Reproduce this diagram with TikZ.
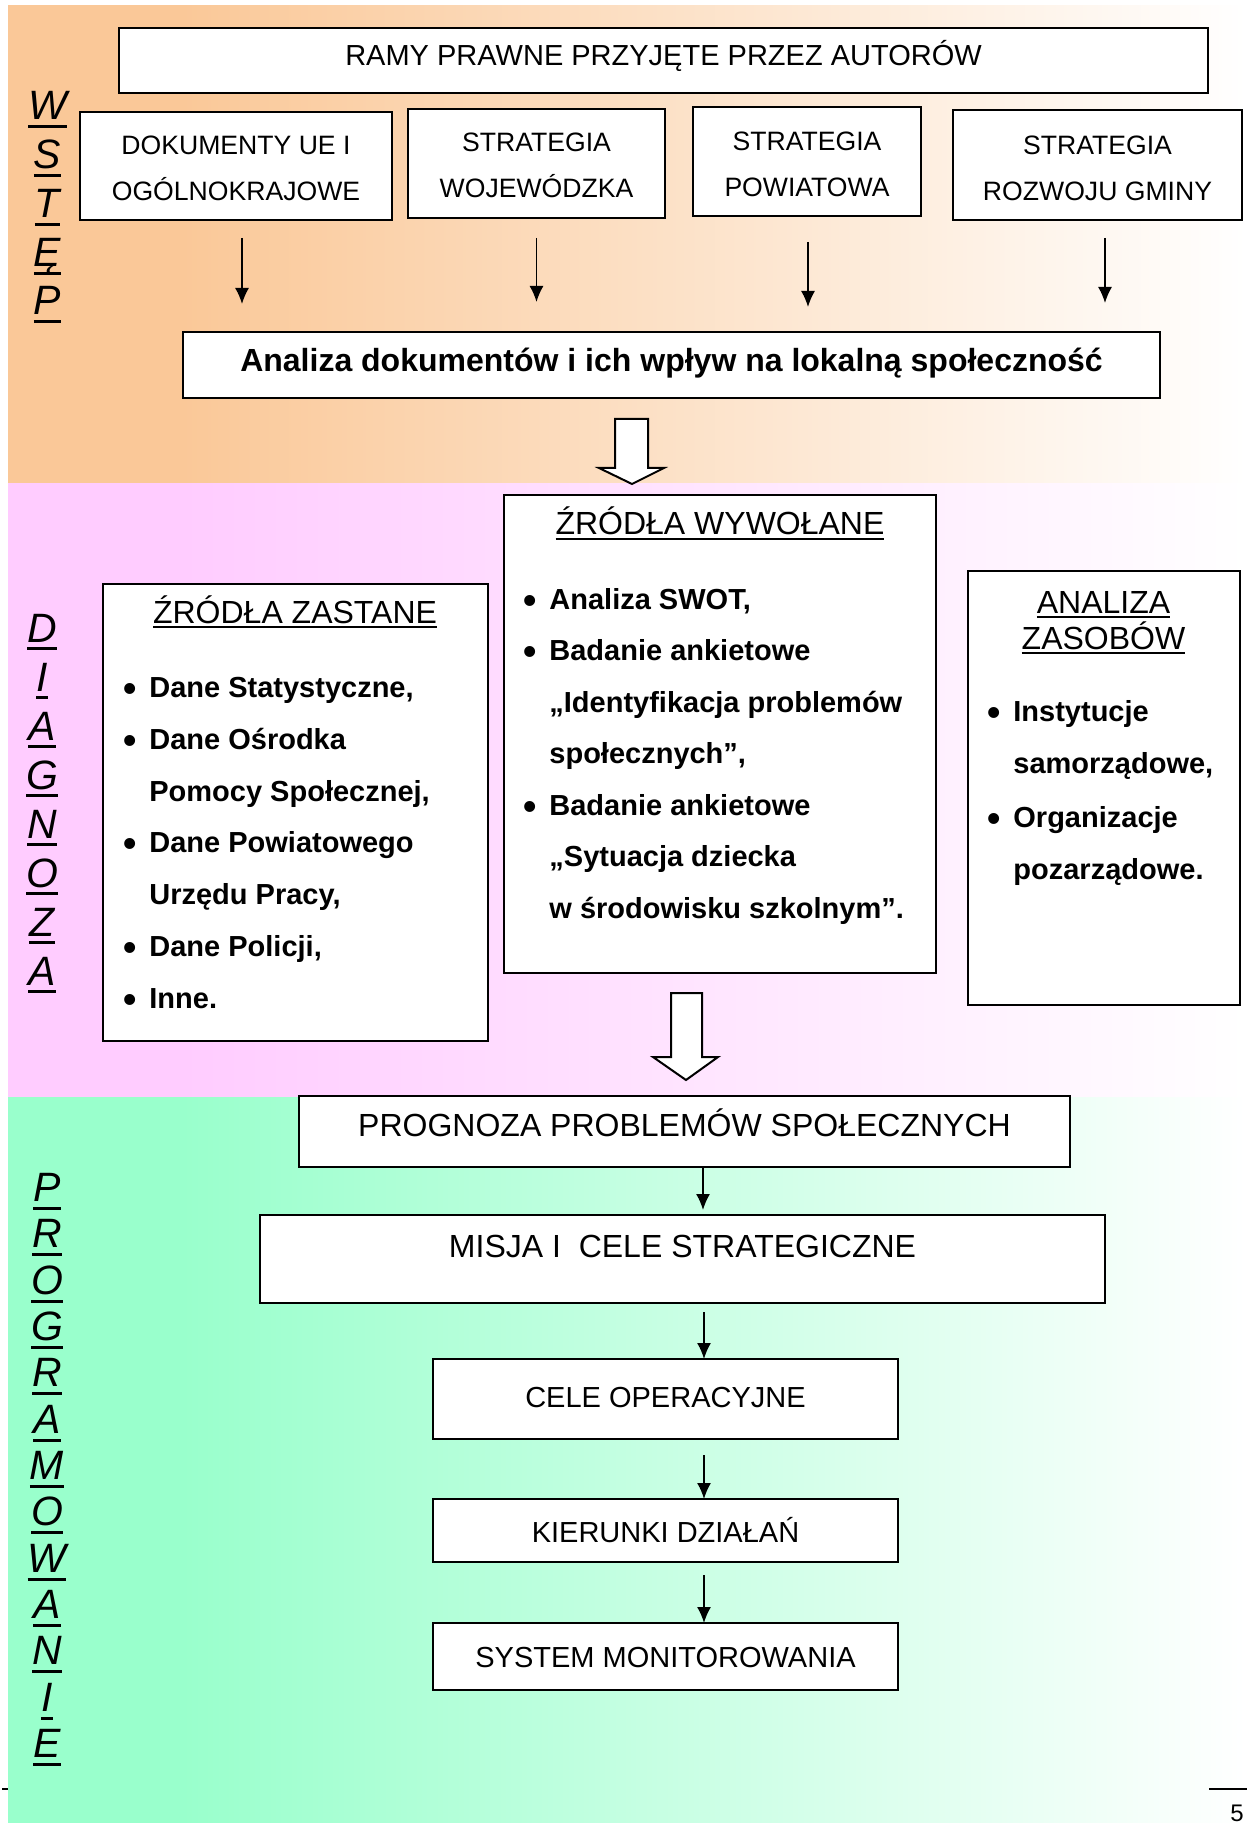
\documentclass[tikz,border=0pt]{standalone}
\usepackage{fontspec}
\setmainfont{Liberation Sans}
\usetikzlibrary{arrows.meta,calc}
\definecolor{orA}{RGB}{250,200,152}
\definecolor{pkA}{RGB}{255,204,255}
\definecolor{grA}{RGB}{153,255,204}
\pgfdeclarehorizontalshading{orsh}{100bp}{color(0bp)=(orA); color(32bp)=(orA); color(75bp)=(white); color(100bp)=(white)}
\pgfdeclarehorizontalshading{pksh}{100bp}{color(0bp)=(pkA); color(32bp)=(pkA); color(75bp)=(white); color(100bp)=(white)}
\pgfdeclarehorizontalshading{grsh}{100bp}{color(0bp)=(grA); color(32bp)=(grA); color(75bp)=(white); color(100bp)=(white)}
\newcommand{\fsz}[1]{\fontsize{#1}{#1}\selectfont}
\newcommand{\ulx}[1]{\setbox0=\hbox{#1}\rlap{\copy0}\rule[-2.6pt]{\wd0}{1.1pt}}
\newcommand{\ulv}[1]{\setbox0=\hbox{#1}\rlap{\copy0}\rule[-4.2pt]{\wd0}{1.5pt}}
\newcommand{\bul}{\llap{{\fontsize{19}{19}\selectfont\raisebox{-2pt}{•}}\hspace{6.2pt}}}
\begin{document}
\begin{tikzpicture}[x=0.5pt,y=-0.5pt,
  boxn/.style={draw, line width=1pt, fill=white, inner sep=0pt, outer sep=0pt},
  tarr/.style={line width=0.8pt, -{Latex[length=8pt,width=7pt]}},
  hollow/.style={draw, line width=1pt, fill=white, line join=miter},
  vlet/.style={anchor=base, inner sep=0pt, font=\fsz{20.5}\itshape},
  bl/.style={anchor=base west, inner sep=0pt, font=\fsz{14.5}\bfseries},
  ttl/.style={anchor=base, inner sep=0pt, font=\fsz{16}},
  two/.style={align=center, font=\fontsize{13.3}{23}\selectfont}]
\useasboundingbox (0,0) rectangle (1247,1823);
\fill[white] (0,0) rectangle (1247,1823);
% background bands
\shade[shading=orsh] (8,6) rectangle (1247,484);
\shade[shading=pksh] (8,484) rectangle (1247,1097);
\shade[shading=grsh] (8,1097) rectangle (1247,1823);

% section letters
\foreach \l [count=\i from 0] in {W,S,T,Ę,P}
  \node[vlet] (wl\i) at (47.5,120+48.75*\i) {\ulv{\l}};
\foreach \l [count=\i from 0] in {D,I,A,G,N,O,Z,A}
  \node[vlet] (dl\i) at (42,642+49*\i) {\ulv{\l}};
\foreach \l [count=\i from 0] in {P,R,O,G,R,A,M,O,W,A,N,I,E}
  \node[vlet] (pl\i) at (47,1201.5+46.33*\i) {\ulv{\l}};

% top section
\node[boxn, minimum width=544.5pt, minimum height=32.5pt, font=\fsz{14.5}, text height=12pt, text depth=6.5pt] (ramy) at (663.5,60.5) {RAMY PRAWNE PRZYJĘTE PRZEZ AUTORÓW};
\node[boxn, two, minimum width=156pt, minimum height=54pt, text height=35pt, text depth=0pt] (doc) at (236,166) {DOKUMENTY UE I\\OGÓLNOKRAJOWE};
\node[boxn, two, minimum width=128.5pt, minimum height=54.5pt, text height=35pt, text depth=0.5pt] (woj) at (536.5,163.5) {STRATEGIA\\WOJEWÓDZKA};
\node[boxn, two, minimum width=114pt, minimum height=54.5pt, text height=35.5pt, text depth=0pt] (pow) at (807,161.5) {STRATEGIA\\POWIATOWA};
\node[boxn, two, minimum width=144.5pt, minimum height=55pt, text height=35.5pt, text depth=0pt] (gmi) at (1097.5,165) {STRATEGIA\\ROZWOJU GMINY};
\node[boxn, minimum width=488.5pt, minimum height=33pt, font=\fsz{16}\bfseries, text height=12pt, text depth=5pt] (ana) at (671.5,365) {Analiza dokumentów i ich wpływ na lokalną społeczność};

\draw[tarr] ($(doc.south)+(3pt,-9pt)$) -- ($(doc.south |- ana.north)+(3pt,14pt)$);
\draw[tarr] ($(woj.south)+(0pt,-10pt)$) -- ($(woj.south |- ana.north)+(0pt,15pt)$);
\draw[tarr] ($(pow.south)+(0.5pt,-13pt)$) -- ($(pow.south |- ana.north)+(0.5pt,12.5pt)$);
\draw[tarr] ($(gmi.south)+(3.75pt,-9pt)$) -- ($(gmi.south |- ana.north)+(3.75pt,14.5pt)$);

% hollow arrow 1
\draw[hollow] (615,419) -- (648,419) -- (648,468) -- (664,468) -- (632,484) -- (599,468) -- (615,468) -- cycle;

% diagnosis section
\node[boxn, minimum width=192.5pt, minimum height=228.5pt] (zast) at (295.5,812.5) {};
\node[boxn, minimum width=216pt, minimum height=239pt] (wyw) at (720,734) {};
\node[boxn, minimum width=136pt, minimum height=217pt] (zas) at (1104,788) {};

\node[ttl] (zastT) at (295,623) {\ulx{ŹRÓDŁA ZASTANE}};
\node[bl] (z1) at (149,697) {\bul Dane Statystyczne,};
\node[bl] (z2) at (149,749) {\bul Dane Ośrodka};
\node[bl] (z3) at (149,801) {Pomocy Społecznej,};
\node[bl] (z4) at (149,852) {\bul Dane Powiatowego};
\node[bl] (z5) at (149,904) {Urzędu Pracy,};
\node[bl] (z6) at (149,956) {\bul Dane Policji,};
\node[bl] (z7) at (149,1008) {\bul Inne.};

\node[ttl] (wywT) at (720,535) {\ulx{ŹRÓDŁA WYWOŁANE}};
\node[bl] (w1) at (549,609) {\bul Analiza SWOT,};
\node[bl] (w2) at (549,660.5) {\bul Badanie ankietowe};
\node[bl] (w3) at (549,712) {„Identyfikacja problemów};
\node[bl] (w4) at (549,763.5) {społecznych”,};
\node[bl] (w5) at (549,815) {\bul Badanie ankietowe};
\node[bl] (w6) at (549,866.5) {„Sytuacja dziecka};
\node[bl] (w7) at (549,918) {w środowisku szkolnym”.};

\node[ttl] (zasT1) at (1103.5,613) {\ulx{ANALIZA}};
\node[ttl] (zasT2) at (1103.5,649) {\ulx{ZASOBÓW}};
\node[bl] (a1) at (1013,721) {\bul Instytucje};
\node[bl] (a2) at (1013,773) {samorządowe,};
\node[bl] (a3) at (1013,827) {\bul Organizacje};
\node[bl] (a4) at (1013,879) {pozarządowe.};

% hollow arrow 2
\draw[hollow] (671,993) -- (702,993) -- (702,1057) -- (718,1057) -- (686,1080) -- (653,1057) -- (671,1057) -- cycle;

% programming section
\node[boxn, minimum width=385.5pt, minimum height=35.5pt, font=\fsz{16}, text height=12pt, text depth=7.5pt] (prog) at (684.5,1131.5) {PROGNOZA PROBLEMÓW SPOŁECZNYCH};
\node[boxn, minimum width=422.5pt, minimum height=44pt, font=\fsz{16}, text height=12pt, text depth=14pt] (misja) at (682.5,1259) {MISJA I\ \ CELE STRATEGICZNE};
\node[boxn, minimum width=232.5pt, minimum height=40pt, font=\fsz{14.5}, text height=12pt, text depth=3.5pt] (cele) at (665.5,1399) {CELE OPERACYJNE};
\node[boxn, minimum width=232.5pt, minimum height=31.5pt, font=\fsz{14.5}, text height=12pt, text depth=0.5pt] (kier) at (665.5,1530.5) {KIERUNKI DZIAŁAŃ};
\node[boxn, minimum width=232.5pt, minimum height=33.5pt, font=\fsz{14.5}, text height=12pt, text depth=1.5pt] (sys) at (665.5,1656.5) {SYSTEM MONITOROWANIA};

\draw[tarr] ($(prog.south)+(9.25pt,0pt)$) -- ($(prog.south |- misja.north)+(9.25pt,2.5pt)$);
\draw[tarr] ($(cele.north |- misja.south)+(19.25pt,-4.5pt)$) -- ($(cele.north)+(19.25pt,0pt)$);
\draw[tarr] ($(cele.south)+(19.25pt,-8pt)$) -- ($(kier.north)+(19.25pt,0pt)$);
\draw[tarr] ($(kier.south)+(19.25pt,-6.5pt)$) -- ($(sys.north)+(19.25pt,0pt)$);

% footer
\draw[line width=0.6pt] (1209,1789) -- (1247,1789);
\draw[line width=1pt] (2,1789) -- (8,1789);
\node[anchor=base, inner sep=0pt, font=\fsz{12}] (pg) at (1237,1821) {5};
\end{tikzpicture}
\end{document}
